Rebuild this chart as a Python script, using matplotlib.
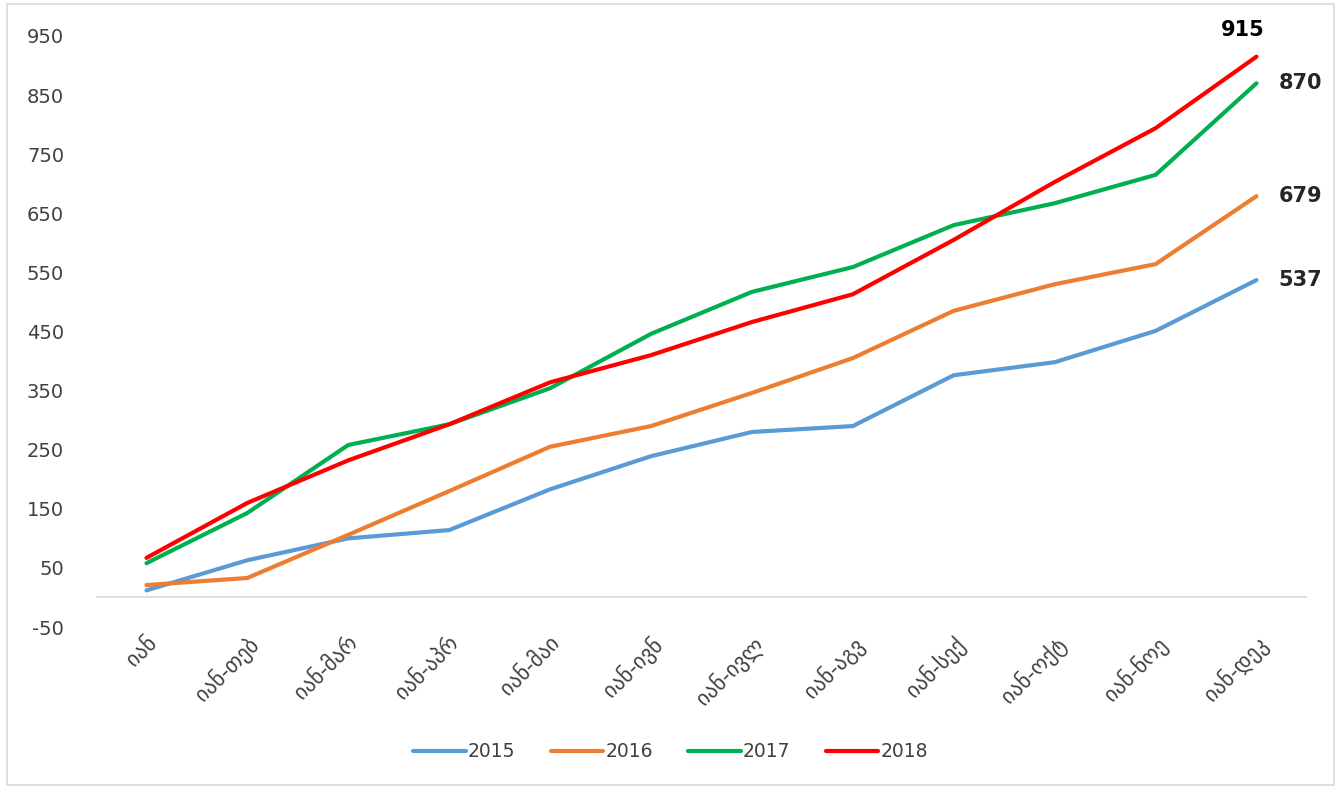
import matplotlib
matplotlib.use("Agg")
import matplotlib.pyplot as plt
from matplotlib.patches import Rectangle

# month labels (cumulative from January)
months = ["იან", "იან-თებ", "იან-მარ", "იან-აპრ", "იან-მაი", "იან-ივნ",
          "იან-ივლ", "იან-აგვ", "იან-სექ", "იან-ოქტ", "იან-ნოე", "იან-დეკ"]

v2015 = [12, 63, 100, 114, 183, 239, 280, 290, 376, 398, 451, 537]
v2016 = [21, 33, 106, 180, 255, 290, 346, 405, 485, 530, 564, 679]
v2017 = [58, 143, 258, 293, 354, 446, 517, 559, 630, 667, 715, 870]
v2018 = [67, 160, 232, 293, 364, 410, 466, 513, 605, 703, 794, 915]

years = ["2015", "2016", "2017", "2018"]
colors = ["#5B9BD5", "#ED7D31", "#00B050", "#FF0000"]
yticks = list(range(-50, 951, 100))


def main():
    plt.rcParams['font.family'] = ['DejaVu Sans']
    fig = plt.figure(figsize=(13.41, 7.89), dpi=100)
    ax = fig.add_axes([0.0716, 0.2053, 0.903, 0.7491])

    x = list(range(len(months)))
    series = [v2015, v2016, v2017, v2018]
    for vals, name, col in zip(series, years, colors):
        ax.plot(x, vals, color=col, lw=3.0, label=name,
                solid_capstyle='round')

    ax.set_xlim(-0.5, 11.5)
    ax.set_ylim(-50, 950)
    ax.set_yticks(yticks)
    ax.set_yticklabels([str(t) for t in yticks], fontsize=14,
                       color="#404040")
    ax.set_xticks(x)
    ax.set_xticklabels(months, rotation=45, ha='right', va='top',
                       rotation_mode='anchor', fontsize=15.5,
                       color="#404040")
    ax.tick_params(axis='both', length=0)
    ax.tick_params(axis='x', pad=4)
    ax.tick_params(axis='y', pad=23)
    for s in ax.spines.values():
        s.set_visible(False)
    ax.axhline(0, color="#D9D9D9", lw=1.2, zorder=0)

    # end labels
    last = len(months) - 1
    ax.annotate(str(v2018[-1]), (last, v2018[-1]), xytext=(-10, 12),
                textcoords='offset points', ha='center', va='bottom',
                fontsize=15, fontweight='bold', color="#000000")
    for vals in [v2017, v2016, v2015]:
        ax.annotate(str(vals[-1]), (last, vals[-1]), xytext=(16, 0),
                    textcoords='offset points', ha='left', va='center',
                    fontsize=15, fontweight='bold', color="#262626")

    ax.legend(loc='center', bbox_to_anchor=(0.5, 0.047),
              bbox_transform=fig.transFigure, ncol=4, frameon=False,
              fontsize=13.5, handlelength=2.8, handletextpad=0.1,
              columnspacing=1.9, labelcolor="#404040")

    fig.patches.append(Rectangle((0.005, 0.005), 0.99, 0.99,
                                 transform=fig.transFigure, fill=False,
                                 edgecolor="#D9D9D9", lw=1.2))
    fig.savefig("out.png", dpi=100)


if __name__ == "__main__":
    main()
